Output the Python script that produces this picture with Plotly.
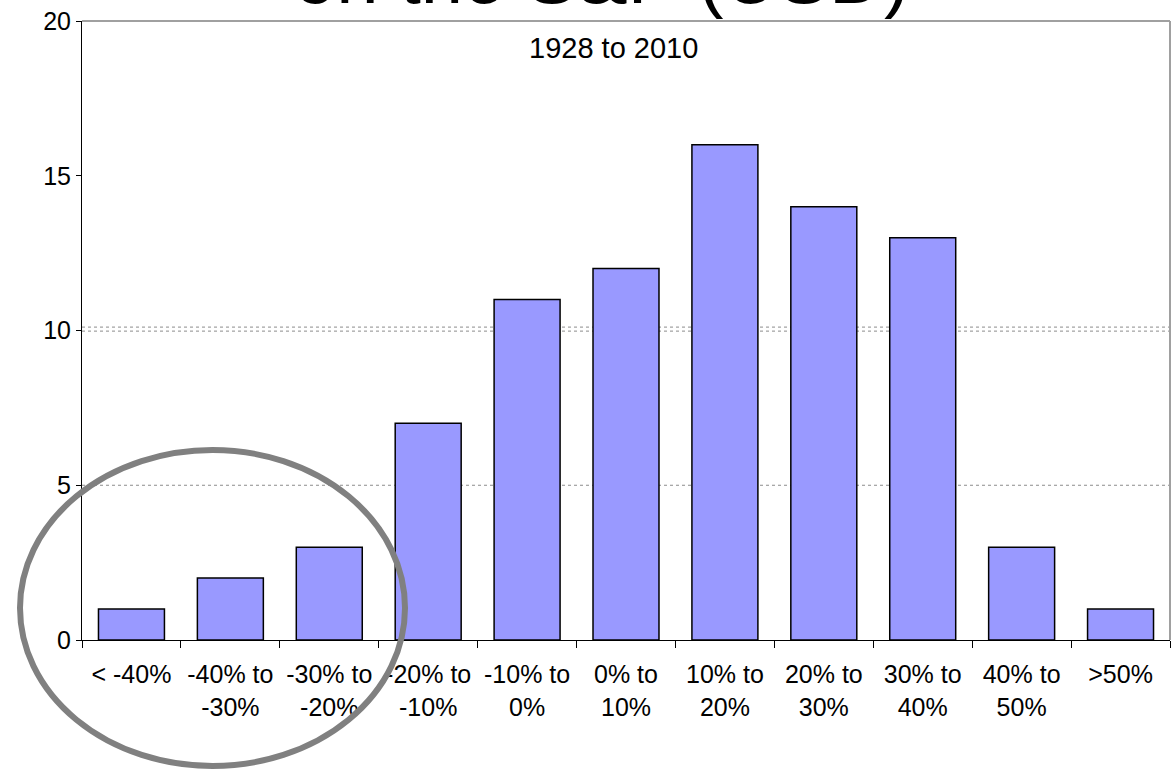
import plotly.graph_objects as go

# Annual return buckets and number of years falling in each (1928-2010)
categories = ["< -40%", "-40% to<br>-30%", "-30% to<br>-20%", "-20% to<br>-10%",
              "-10% to<br>0%", "0% to<br>10%", "10% to<br>20%", "20% to<br>30%",
              "30% to<br>40%", "40% to<br>50%", ">50%"]
years = [1, 2, 3, 7, 11, 12, 16, 14, 13, 3, 1]
y_ticks = [0, 5, 10, 15, 20]

W, H = 1175, 771
L, R, T, B = 82, 5, 21, 131
plot_w = W - L - R
plot_h = H - T - B


def px_x(px):
    return (px - L) / plot_w


def px_y(py):
    return (H - B - py) / plot_h


FONT = "Arial, Liberation Sans, sans-serif"

fig = go.Figure(go.Bar(
    x=categories, y=years,
    marker=dict(color="#9999FF", line=dict(color="black", width=1.5)),
))

shapes = []
# dotted reference lines
for yv in (5, 9.98, 10.11):
    shapes.append(dict(type="line", xref="paper", yref="y", x0=0, x1=1, y0=yv, y1=yv,
                       line=dict(color="#8c8c8c", width=1, dash="dot"), layer="below"))
# gray frame on top and right
shapes.append(dict(type="line", xref="paper", yref="paper", x0=0, x1=1, y0=1, y1=1,
                   line=dict(color="#a0a0a0", width=2)))
shapes.append(dict(type="line", xref="paper", yref="paper", x0=1, x1=1, y0=0, y1=1,
                   line=dict(color="#a0a0a0", width=2)))
# highlight ring round the loss-making years
shapes.append(dict(type="circle", xref="paper", yref="paper",
                   x0=px_x(20), x1=px_x(405), y0=px_y(766), y1=px_y(450),
                   line=dict(color="#808080", width=6), layer="above"))

fig.update_layout(
    width=W, height=H,
    margin=dict(l=L, r=R, t=T, b=B, pad=0),
    paper_bgcolor="white", plot_bgcolor="white",
    font=dict(family=FONT, color="black", size=25),
    showlegend=False,
    bargap=0.333,
    shapes=shapes,
    xaxis=dict(type="category", showline=True, linecolor="black", linewidth=1,
               ticks="outside", tickson="boundaries", ticklen=7, tickcolor="black",
               ticklabelstandoff=12,
               tickfont=dict(size=25), showgrid=False, zeroline=False, fixedrange=True),
    yaxis=dict(range=[0, 20], tickvals=y_ticks, showline=True, linecolor="black",
               linewidth=1, ticks="outside", ticklen=5, tickcolor="black",
               tickfont=dict(size=25), showgrid=False, zeroline=False, fixedrange=True),
    annotations=[
        dict(text="on the S&P (USD)", xref="paper", yref="paper",
             x=px_x(601), y=px_y(21), xanchor="center", yanchor="bottom",
             showarrow=False, font=dict(size=76, family=FONT)),
        dict(text="1928 to 2010", xref="paper", yref="paper",
             x=px_x(613), y=px_y(48), xanchor="center", yanchor="middle",
             showarrow=False, font=dict(size=29, family=FONT)),
    ],
)

fig.write_html("out.html")
